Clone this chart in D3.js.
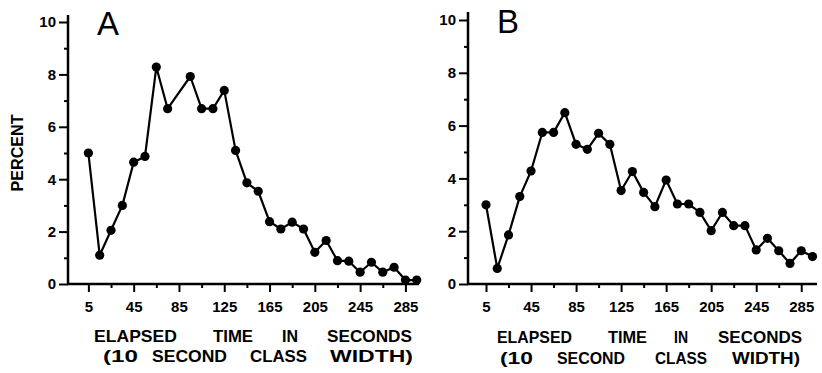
<!DOCTYPE html>
<html>
<head>
<meta charset="utf-8">
<script src="https://cdnjs.cloudflare.com/ajax/libs/d3/7.8.5/d3.min.js"></script>
<style>
  body { margin: 0; background: #fff; }
  svg { display: block; }
  .tick text { font-family: "Liberation Sans", Arial, sans-serif; font-weight: bold; fill: #000; }
  .ttl { font-family: "Liberation Sans", Arial, sans-serif; font-weight: bold; fill: #000; }
</style>
</head>
<body>
<svg id="chart" width="822" height="373"></svg>
<script>
// class midpoints (seconds)
const seconds = d3.range(5, 300, 10);
// panel A percent per class (85 s point not plotted in the original)
const percentA = [5.0, 1.1, 2.05, 3.0, 4.65, 4.87, 8.28, 6.69, null, 7.92,
                  6.69, 6.69, 7.39, 5.1, 3.86, 3.54, 2.38, 2.1, 2.36, 2.1,
                  1.21, 1.66, 0.89, 0.87, 0.45, 0.83, 0.45, 0.64, 0.15, 0.15];
// panel B percent per class
const percentB = [3.0, 0.59, 1.86, 3.31, 4.28, 5.74, 5.74, 6.49, 5.29, 5.1,
                  5.71, 5.29, 3.54, 4.26, 3.47, 2.93, 3.94, 3.03, 3.03, 2.71,
                  2.02, 2.71, 2.21, 2.21, 1.29, 1.73, 1.26, 0.78, 1.26, 1.04];
const xMajor = [5, 45, 85, 125, 165, 205, 245, 285];
const xMinor = [25, 65, 105, 145, 185, 225, 265];
const yMajor = [0, 2, 4, 6, 8, 10];
const yMinor = [1, 3, 5, 7, 9];

const svg = d3.select("#chart");

const panels = [
  { letter: "A", values: percentA, x0: 68, x1: 419, xd: [-13, 297], y0: 284, y10: 22, top: 15,
    title1: [["ELAPSED", 94, 83], ["TIME", 213, 40], ["IN", 282, 16], ["SECONDS", 327, 85]],
    title2: [["(10", 103, 35], ["SECOND", 152, 75], ["CLASS", 250, 57], ["WIDTH)", 330, 83]],
    ty1: 342, ty2: 362, lx: 97, ly: 35 },
  { letter: "B", values: percentB, x0: 468, x1: 817, xd: [-11, 299], y0: 284, y10: 20, top: 12,
    title1: [["ELAPSED", 497, 75], ["TIME", 608, 39], ["IN", 674, 14], ["SECONDS", 718, 84]],
    title2: [["(10", 500, 33], ["SECOND", 557, 68], ["CLASS", 655, 52], ["WIDTH)", 732, 68]],
    ty1: 343, ty2: 364, lx: 497, ly: 33 }
];

panels.forEach(p => {
  const x = d3.scaleLinear().domain(p.xd).range([p.x0, p.x1]);
  const y = d3.scaleLinear().domain([0, 10]).range([p.y0, p.y10]);
  const g = svg.append("g");

  // x axis: major + minor ticks
  g.append("g").attr("transform", `translate(0,${p.y0})`)
    .call(d3.axisBottom(x).tickValues(xMajor).tickSize(8).tickPadding(9).tickFormat(d3.format("d")))
    .call(a => a.select(".domain").remove())
    .call(a => a.selectAll(".tick line").attr("stroke", "#000").attr("stroke-width", 2))
    .call(a => a.selectAll(".tick text").attr("font-size", 15));
  g.append("g").attr("transform", `translate(0,${p.y0})`)
    .call(d3.axisBottom(x).tickValues(xMinor).tickSize(4).tickFormat(""))
    .call(a => a.select(".domain").remove())
    .call(a => a.selectAll(".tick line").attr("stroke", "#000").attr("stroke-width", 2));

  // y axis: major + minor ticks
  g.append("g").attr("transform", `translate(${p.x0},0)`)
    .call(d3.axisLeft(y).tickValues(yMajor).tickSize(9).tickPadding(3).tickFormat(d3.format("d")))
    .call(a => a.select(".domain").remove())
    .call(a => a.selectAll(".tick line").attr("stroke", "#000").attr("stroke-width", 2))
    .call(a => a.selectAll(".tick text").attr("font-size", 15));
  g.append("g").attr("transform", `translate(${p.x0},0)`)
    .call(d3.axisLeft(y).tickValues(yMinor).tickSize(4).tickFormat(""))
    .call(a => a.select(".domain").remove())
    .call(a => a.selectAll(".tick line").attr("stroke", "#000").attr("stroke-width", 2));

  // axis lines
  g.append("line").attr("x1", p.x0).attr("x2", p.x0).attr("y1", p.top).attr("y2", p.y0 + 1)
    .attr("stroke", "#000").attr("stroke-width", 2.5);
  g.append("line").attr("x1", p.x0 - 1).attr("x2", p.x1).attr("y1", p.y0).attr("y2", p.y0)
    .attr("stroke", "#000").attr("stroke-width", 2.5);

  // series
  const pts = seconds.map((s, i) => ({ s, v: p.values[i] })).filter(d => d.v != null);
  g.append("path").datum(pts)
    .attr("fill", "none").attr("stroke", "#000").attr("stroke-width", 2.2)
    .attr("stroke-linejoin", "round")
    .attr("d", d3.line().x(d => x(d.s)).y(d => y(d.v)));
  g.selectAll("circle").data(pts).join("circle")
    .attr("cx", d => x(d.s)).attr("cy", d => y(d.v)).attr("r", 4.6).attr("fill", "#000");

  // panel letter
  g.append("text").attr("x", p.lx).attr("y", p.ly)
    .attr("font-family", "'Liberation Sans', Arial, sans-serif").attr("font-size", 33)
    .attr("font-weight", 300).attr("textLength", 22).attr("lengthAdjust", "spacingAndGlyphs")
    .text(p.letter);

  // axis titles, word by word
  [[p.title1, p.ty1], [p.title2, p.ty2]].forEach(([words, ty]) => {
    words.forEach(([w, wx, wl]) => {
      g.append("text").attr("class", "ttl").attr("x", wx).attr("y", ty)
        .attr("font-size", 17).attr("textLength", wl).attr("lengthAdjust", "spacingAndGlyphs")
        .text(w);
    });
  });
});

// y axis title
svg.append("text").attr("class", "ttl")
  .attr("transform", "translate(23,153) rotate(-90)")
  .attr("text-anchor", "middle").attr("font-size", 16)
  .attr("textLength", 77).attr("lengthAdjust", "spacingAndGlyphs")
  .text("PERCENT");
</script>
</body>
</html>
